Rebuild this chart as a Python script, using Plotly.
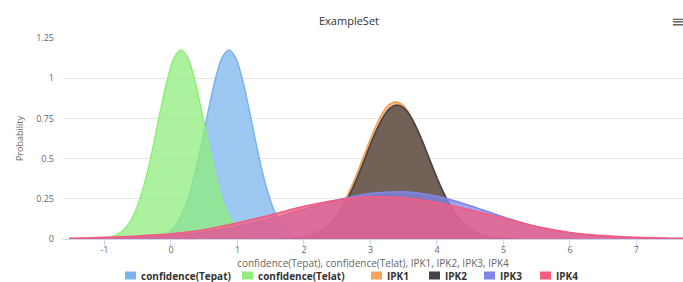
import plotly.graph_objects as go

# ---- data (density curves) ----
tepat_x = [-0.33, -0.23, -0.13, -0.03, 0.07, 0.17, 0.27, 0.37, 0.47, 0.57, 0.67, 0.77, 0.87,
           0.97, 1.07, 1.17, 1.27, 1.37, 1.47, 1.57, 1.67, 1.77, 1.87, 1.97, 2.07]
tepat_y = [0.003, 0.008, 0.020, 0.043, 0.086, 0.159, 0.271, 0.424, 0.611, 0.814, 0.998, 1.128, 1.175,
           1.128, 0.998, 0.814, 0.611, 0.424, 0.271, 0.159, 0.086, 0.043, 0.020, 0.008, 0.003]

telat_x = [-1.05, -0.95, -0.85, -0.75, -0.65, -0.55, -0.45, -0.35, -0.25, -0.15, -0.05, 0.05, 0.15,
           0.25, 0.35, 0.45, 0.55, 0.65, 0.75, 0.85, 0.95, 1.05, 1.15, 1.25, 1.35]
telat_y = [0.003, 0.008, 0.020, 0.043, 0.086, 0.159, 0.271, 0.424, 0.611, 0.814, 0.998, 1.128, 1.175,
           1.128, 0.998, 0.814, 0.611, 0.424, 0.271, 0.159, 0.086, 0.043, 0.020, 0.008, 0.003]

ipk1_x = [1.58, 1.78, 1.88, 1.98, 2.08, 2.18, 2.28, 2.38, 2.48, 2.58, 2.68, 2.78, 2.88, 2.98, 3.08,
          3.18, 3.28, 3.38, 3.48, 3.58, 3.68, 3.78, 3.88, 3.98, 4.08, 4.18, 4.28, 4.38, 4.48, 4.58,
          4.68, 4.78, 4.88, 4.98, 5.18]
ipk1_y = [0.001, 0.003, 0.006, 0.012, 0.022, 0.038, 0.061, 0.097, 0.147, 0.213, 0.295, 0.390, 0.496,
          0.603, 0.701, 0.782, 0.835, 0.853, 0.835, 0.782, 0.701, 0.603, 0.496, 0.390, 0.295, 0.213,
          0.147, 0.097, 0.061, 0.038, 0.022, 0.012, 0.006, 0.003, 0.001]

ipk2_x = [1.6, 1.8, 1.9, 2.0, 2.1, 2.2, 2.3, 2.4, 2.5, 2.6, 2.7, 2.8, 2.9, 3.0, 3.1, 3.2, 3.3, 3.4,
          3.5, 3.6, 3.7, 3.8, 3.9, 4.0, 4.1, 4.2, 4.3, 4.4, 4.5, 4.6, 4.7, 4.8, 4.9, 5.0, 5.2]
ipk2_y = [0.001, 0.003, 0.006, 0.012, 0.021, 0.037, 0.060, 0.095, 0.144, 0.208, 0.288, 0.381, 0.484,
          0.589, 0.685, 0.764, 0.815, 0.833, 0.815, 0.764, 0.685, 0.589, 0.484, 0.381, 0.288, 0.208,
          0.144, 0.095, 0.060, 0.037, 0.021, 0.012, 0.006, 0.003, 0.001]

wide_x = [-1.53, -1.0, -0.5, 0.0, 0.5, 1.0, 1.5, 2.0, 2.5, 3.0, 3.5, 4.0, 4.5, 5.0, 5.5, 6.0,
          6.5, 7.0, 7.5, 7.8]
ipk3_y = [0.002, 0.005, 0.011, 0.022, 0.042, 0.076, 0.125, 0.185, 0.242, 0.282, 0.293, 0.265,
          0.207, 0.137, 0.076, 0.037, 0.017, 0.007, 0.003, 0.002]
ipk4_y = [0.004, 0.010, 0.019, 0.032, 0.058, 0.100, 0.150, 0.203, 0.243, 0.262, 0.256, 0.226,
          0.180, 0.130, 0.077, 0.040, 0.021, 0.010, 0.005, 0.003]

names = ["confidence(Tepat)", "confidence(Telat)", "IPK1", "IPK2", "IPK3", "IPK4"]
colors = ["#7cb5ec", "#90ed7d", "#f7a35c", "#434348", "#8085e9", "#f15c80"]
xs = [tepat_x, telat_x, ipk1_x, ipk2_x, wide_x, wide_x]
ys = [tepat_y, telat_y, ipk1_y, ipk2_y, ipk3_y, ipk4_y]

y_tickvals = [0, 0.25, 0.5, 0.75, 1, 1.25]
y_ticktext = ["0", "0.25", "0.5", "0.75", "1", "1.25"]
x_tickvals = [-1, 0, 1, 2, 3, 4, 5, 6, 7]
x_ticktext = ["-1", "0", "1", "2", "3", "4", "5", "6", "7"]

# layout constants (pixels)
W, H = 683, 282
L, R, T, B = 63, 0, 38, 43
PW, PH = W - L - R, H - T - B
legend_square_left = [125, 242, 371, 429, 484, 540]
legend_y = 275.5


def rgba(hexc, a):
    h = hexc.lstrip("#")
    return "rgba(%d,%d,%d,%g)" % (int(h[0:2], 16), int(h[2:4], 16), int(h[4:6], 16), a)


def px_x(p):
    return (p - L) / PW


def px_y(p):
    return (H - B - p) / PH


FONT = "Open Sans, DejaVu Sans, sans-serif"
fig = go.Figure()
for n, c, x, y in zip(names, colors, xs, ys):
    fig.add_trace(go.Scatter(
        x=x, y=y, name=n, mode="lines", line=dict(color=c, width=1.6, shape="spline"),
        fill="tozeroy", fillcolor=rgba(c, 0.75), showlegend=False, hoverinfo="x+y+name"))

# legend drawn as squares + bold labels (Highcharts style)
for n, c, sx in zip(names, colors, legend_square_left):
    fig.add_shape(type="rect", xref="paper", yref="paper",
                  x0=px_x(sx), x1=px_x(sx + 11), y0=px_y(legend_y + 4), y1=px_y(legend_y - 4),
                  fillcolor=c, line=dict(width=0))
    fig.add_annotation(text="<b>%s</b>" % n, xref="paper", yref="paper",
                       x=px_x(sx + 15), y=px_y(legend_y), xanchor="left", yanchor="middle",
                       showarrow=False, borderpad=0,
                       font=dict(size=10, color="#333333", family=FONT))

fig.update_layout(
    width=W, height=H,
    margin=dict(l=L, r=R, t=T, b=B),
    paper_bgcolor="white", plot_bgcolor="white",
    font=dict(family=FONT, color="#666666", size=10),
    title=dict(text="ExampleSet", x=349 / W, xanchor="center", y=1 - 21 / H, yanchor="middle",
               font=dict(size=11, color="#333333", family=FONT)),
    showlegend=False,
    xaxis=dict(range=[-1.624, 7.70], tickvals=x_tickvals, ticktext=x_ticktext, automargin=False,
               showgrid=False, zeroline=False, showline=True, linecolor="#ccd6eb", linewidth=1,
               ticks="outside", ticklen=6, tickcolor="#ccd6eb", ticklabelstandoff=-4,
               tickfont=dict(size=9, color="#666666"),
               title=dict(text="confidence(Tepat), confidence(Telat), IPK1, IPK2, IPK3, IPK4",
                          font=dict(size=10, color="#666666"), standoff=0)),
    yaxis=dict(range=[0, 1.25], tickvals=y_tickvals, ticktext=y_ticktext, automargin=False,
               showgrid=True, gridcolor="#e6e6e6", gridwidth=1, zeroline=False, showline=False,
               ticks="", ticklabelstandoff=8,
               tickfont=dict(size=9, color="#666666"),
               title=dict(text="Probability", font=dict(size=9, color="#666666"), standoff=11)),
)
fig.add_annotation(text="≡", x=px_x(677), y=px_y(21), xref="paper", yref="paper",
                   showarrow=False, font=dict(size=16, color="#666666"), xanchor="center", yanchor="middle")

fig.write_html("out.html", config={"displayModeBar": False},
               post_script="document.body.style.margin='0';document.body.style.overflow='hidden';")
